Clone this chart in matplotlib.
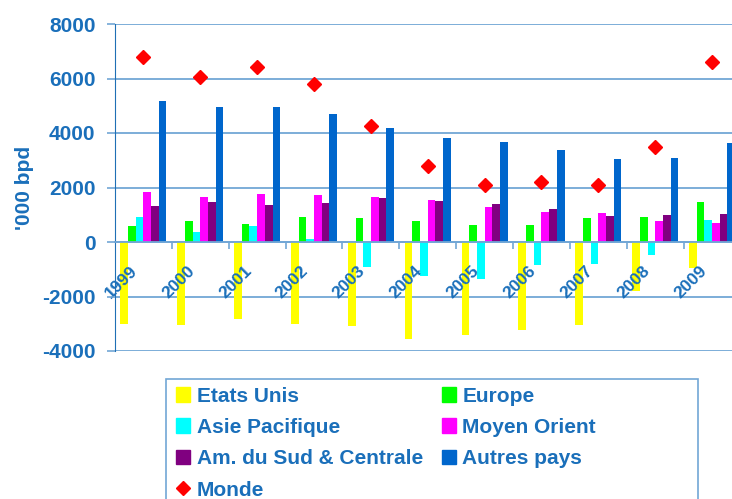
import numpy as np
import matplotlib
matplotlib.use('Agg')
import matplotlib.pyplot as plt
from matplotlib.lines import Line2D
from matplotlib.patches import Patch, Rectangle
from matplotlib.transforms import ScaledTranslation

plt.rcParams['font.family'] = ['Liberation Sans', 'DejaVu Sans']
plt.rcParams['font.weight'] = 'bold'
plt.rcParams['axes.unicode_minus'] = False

# data ('000 bpd)
years = ['1999', '2000', '2001', '2002', '2003', '2004',
         '2005', '2006', '2007', '2008', '2009']
etats_unis = [-3000, -3060, -2840, -3000, -3100, -3570, -3430, -3240, -3060, -1810, -970]
europe = [590, 780, 670, 930, 890, 780, 640, 640, 890, 930, 1480]
asie_pacifique = [920, 380, 600, 120, -900, -1230, -1370, -860, -790, -460, 820]
moyen_orient = [1840, 1660, 1770, 1740, 1660, 1550, 1300, 1110, 1080, 780, 710]
am_sud = [1320, 1480, 1370, 1440, 1630, 1520, 1400, 1220, 970, 1000, 1040]
autres_pays = [5190, 4970, 4970, 4680, 4190, 3800, 3680, 3390, 3060, 3090, 3620]
monde = [6800, 6060, 6440, 5810, 4240, 2800, 2080, 2190, 2080, 3470, 6590]

series = [
    ('Etats Unis', etats_unis, '#FFFF00'),
    ('Europe', europe, '#00FF00'),
    ('Asie Pacifique', asie_pacifique, '#00FFFF'),
    ('Moyen Orient', moyen_orient, '#FF00FF'),
    ('Am. du Sud & Centrale', am_sud, '#800080'),
    ('Autres pays', autres_pays, '#0066CC'),
]

txt_col = '#1a6fba'
grid_col = '#72a7d6'

W, H = 732, 499
fig = plt.figure(figsize=(W / 100, H / 100), dpi=100)
ax = fig.add_axes([115 / W, 1 - 351 / H, (740.5 - 115) / W, (351 - 24) / H])

yticks = np.arange(-4000, 8001, 2000)
for yv in yticks:
    ax.axhline(yv, color=grid_col, lw=1.3, zorder=0)

x = np.arange(len(years))
bw = 0.135
for k, (name, vals, col) in enumerate(series):
    ax.bar(x + (k - 2.5) * bw, vals, width=bw, color=col, zorder=1)
ax.plot(x, monde, linestyle='none', marker='D', ms=7.5, color='#FF0000', zorder=4)

ax.set_xlim(-0.5, len(years) - 0.5)
ax.set_ylim(-4000, 8000)
ax.set_yticks(yticks)

for s in ['top', 'right']:
    ax.spines[s].set_visible(False)
ax.spines['left'].set_color('#1f6fb5')
ax.spines['bottom'].set_position(('data', 0))
ax.spines['bottom'].set_color(grid_col)
ax.spines['bottom'].set_linewidth(1.3)

ax.tick_params(axis='y', colors=grid_col, length=6, width=1.2, pad=8,
               labelsize=15, labelcolor=txt_col)
for lab in ax.get_yticklabels():
    lab.set_fontweight('bold')
ax.set_xticks(x)
ax.set_xticks(np.arange(0.5, len(years) - 0.5, 1), minor=True)
ax.set_xticklabels(years, rotation=45, ha='right', va='center',
                   rotation_mode='anchor', fontsize=12.5, color=txt_col,
                   fontweight='bold')
ax.tick_params(axis='x', which='major', length=0, pad=0)
ax.tick_params(axis='x', which='minor', length=5, width=1.2, colors=grid_col)
for lab in ax.get_xticklabels():
    lab.set_transform(lab.get_transform() + ScaledTranslation(-0.08, -0.265, fig.dpi_scale_trans))

ax.set_ylabel("'000 bpd", fontsize=15, color=txt_col, fontweight='bold')
ax.yaxis.set_label_coords(-0.13, 0.5)

# legend frame (cut by the image bottom like the original)
fig.patches.append(Rectangle((166 / W, -0.1), (697.7 - 166) / W, 1 - 379 / H + 0.1,
                             transform=fig.transFigure, fill=False,
                             edgecolor=grid_col, lw=1.2))

handles = [Patch(color=c) for _, _, c in series]
names = [n for n, _, _ in series]
mk = Line2D([], [], linestyle='none', marker='D', ms=7, color='#FF0000')
order_h = [handles[0], handles[2], handles[4], mk, handles[1], handles[3], handles[5]]
order_n = [names[0], names[2], names[4], 'Monde', names[1], names[3], names[5]]
leg = fig.legend(order_h, order_n, ncol=2, loc='upper left',
                 bbox_to_anchor=(157 / W, 1 - 368 / H), frameon=False,
                 fontsize=15, handlelength=0.7, handleheight=0.7,
                 handletextpad=0.3, columnspacing=0.9, labelspacing=0.59,
                 borderpad=0.4)
for t in leg.get_texts():
    t.set_color(txt_col)
    t.set_fontweight('bold')

fig.savefig('out.png', dpi=100)
